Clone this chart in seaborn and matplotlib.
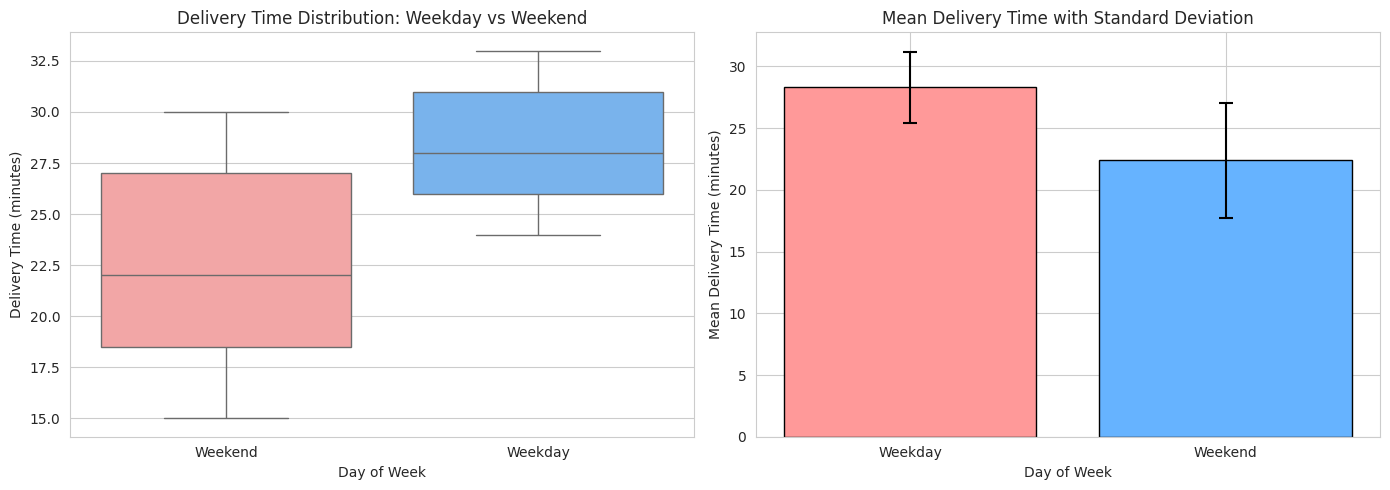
import matplotlib
matplotlib.use("Agg")
import matplotlib.pyplot as plt
import seaborn as sns
import pandas as pd

# Box plot samples (read from quartiles/whiskers)
weekend_times = [15, 17, 18.5, 20, 22, 25, 27, 28, 30]
weekday_times = [24, 25, 26, 27, 28, 29, 31, 32, 33]
box_order = ["Weekend", "Weekday"]

# Bar chart values
bar_days = ["Weekday", "Weekend"]
bar_means = [28.3, 22.4]
bar_stds = [2.9, 4.65]

palette = {"Weekday": "#ff9999", "Weekend": "#66b3ff"}
box_palette = {"Weekend": "#ff9999", "Weekday": "#66b3ff"}

sns.set_style("whitegrid")

df = pd.DataFrame({
    "Day of Week": ["Weekend"] * len(weekend_times) + ["Weekday"] * len(weekday_times),
    "Delivery Time": weekend_times + weekday_times,
})

fig, axes = plt.subplots(1, 2, figsize=(14, 5), dpi=100)

ax = axes[0]
sns.boxplot(data=df, x="Day of Week", y="Delivery Time", hue="Day of Week",
            order=box_order, palette=box_palette, legend=False, ax=ax)
ax.set_title("Delivery Time Distribution: Weekday vs Weekend", fontsize=12)
ax.set_xlabel("Day of Week")
ax.set_ylabel("Delivery Time (minutes)")

ax = axes[1]
bar_df = pd.DataFrame({"Day of Week": bar_days, "Mean": bar_means})
sns.barplot(data=bar_df, x="Day of Week", y="Mean", hue="Day of Week",
            palette=[palette[d] for d in bar_days], saturation=1,
            edgecolor="black", linewidth=1, errorbar=None, legend=False, ax=ax)
ax.errorbar(x=range(len(bar_days)), y=bar_means, yerr=bar_stds, fmt="none",
            ecolor="black", elinewidth=1.5, capsize=5, capthick=1.5)
ax.xaxis.grid(True)
ax.set_axisbelow(True)
ax.set_title("Mean Delivery Time with Standard Deviation", fontsize=12)
ax.set_xlabel("Day of Week")
ax.set_ylabel("Mean Delivery Time (minutes)")

plt.tight_layout()
plt.savefig("out.png", dpi=100, bbox_inches="tight")
